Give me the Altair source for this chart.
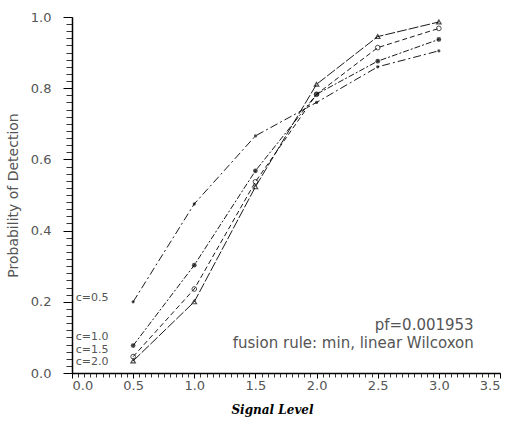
import altair as alt
import pandas as pd

signal = [0.5, 1.0, 1.5, 2.0, 2.5, 3.0]
c_labels = ["c=0.5", "c=1.0", "c=1.5", "c=2.0"]
pd_c05 = [0.200, 0.475, 0.666, 0.760, 0.860, 0.905]
pd_c10 = [0.077, 0.303, 0.568, 0.783, 0.876, 0.937]
pd_c15 = [0.046, 0.236, 0.537, 0.783, 0.914, 0.968]
pd_c20 = [0.034, 0.200, 0.523, 0.811, 0.945, 0.986]

label_x = [0.03, 0.03, 0.03, 0.03]
label_y = [0.21, 0.100, 0.066, 0.031]

note_text = ["pf=0.001953", "fusion rule: min, linear Wilcoxon"]
note_x = [2.88, 2.30]
note_y = [0.135, 0.084]

x_major = [0.0, 0.5, 1.0, 1.5, 2.0, 2.5, 3.0, 3.5]
y_major = [0.0, 0.2, 0.4, 0.6, 0.8, 1.0]
x_minor = [round(i * 0.05, 2) for i in range(71)]
y_minor = [round(i * 0.02, 2) for i in range(51)]

rows = []
for lab, vals in zip(c_labels, [pd_c05, pd_c10, pd_c15, pd_c20]):
    for s, v in zip(signal, vals):
        rows.append({"signal": s, "pd": v, "c": lab})
df = pd.DataFrame(rows)

lab_df = pd.DataFrame({"x": label_x, "y": label_y, "t": c_labels})
note_df = pd.DataFrame({"x": note_x, "y": note_y, "t": note_text})

FONT = "DejaVu Sans"
GRAY = "#555"

xaxis_major = alt.Axis(
    orient="bottom",
    values=x_major,
    format=".1f",
    tickSize=5,
    labelOverlap=False,
    grid=False,
    title="Signal Level",
    titleFont="DejaVu Serif",
    titleFontStyle="italic",
    titleFontWeight="bold",
    titleFontSize=12,
    titleColor="black",
    titlePadding=12,
    titleX=200,
    labelFont=FONT,
    labelFontSize=13,
    labelColor=GRAY,
    labelPadding=1,
    domainColor="black",
    domainWidth=1.5,
    tickColor="black",
)
yaxis_major = alt.Axis(
    orient="left",
    values=y_major,
    format=".1f",
    tickSize=9,
    labelOverlap=False,
    grid=False,
    title="Probability of Detection",
    titleFont=FONT,
    titleFontWeight="normal",
    titleFontSize=14,
    titleColor=GRAY,
    titlePadding=10,
    labelFont=FONT,
    labelFontSize=13,
    labelColor=GRAY,
    labelPadding=12,
    domainColor="black",
    domainWidth=1.5,
    tickColor="black",
)
xaxis_minor = alt.Axis(
    orient="bottom", values=x_minor, tickSize=4, labels=False, domain=False,
    grid=False, title=None, tickColor="black", tickWidth=0.8,
)
yaxis_minor = alt.Axis(
    orient="left", values=y_minor, tickSize=6, labels=False, domain=False,
    grid=False, title=None, tickColor="black", tickWidth=0.8,
)

xs = alt.Scale(domain=[0, 3.5], nice=False)
ys = alt.Scale(domain=[0, 1], nice=False)

dash_scale = alt.Scale(domain=c_labels, range=[[8, 3, 2, 3], [6, 2, 2, 2], [5, 3], [10, 2]])

lines = alt.Chart(df).mark_line(color="black", strokeWidth=0.9).encode(
    x=alt.X("signal:Q", scale=xs, axis=xaxis_major),
    y=alt.Y("pd:Q", scale=ys, axis=yaxis_major),
    strokeDash=alt.StrokeDash("c:N", scale=dash_scale, legend=None),
    detail="c:N",
)

minor = alt.Chart(df).mark_point(opacity=0).encode(
    x=alt.X("signal:Q", scale=xs, axis=xaxis_minor),
    y=alt.Y("pd:Q", scale=ys, axis=yaxis_minor),
)

def pts(label, **kw):
    return alt.Chart(df).transform_filter(alt.datum.c == label).mark_point(color="black", **kw).encode(
        x=alt.X("signal:Q", scale=xs, axis=None),
        y=alt.Y("pd:Q", scale=ys, axis=None),
    )

p05 = pts("c=0.5", shape="circle", filled=True, size=10)
p10 = pts("c=1.0", shape="circle", filled=True, size=22)
p15 = pts("c=1.5", shape="circle", filled=False, size=22, strokeWidth=1)
p20 = pts("c=2.0", shape="triangle-up", filled=False, size=20, strokeWidth=1.2)

labels = alt.Chart(lab_df).mark_text(align="left", baseline="middle", font=FONT, fontSize=11, color=GRAY).encode(
    x=alt.X("x:Q", scale=xs, axis=None), y=alt.Y("y:Q", scale=ys, axis=None), text="t:N"
)
notes = alt.Chart(note_df).mark_text(align="center", baseline="middle", font=FONT, fontSize=15, color=GRAY).encode(
    x=alt.X("x:Q", scale=xs, axis=None), y=alt.Y("y:Q", scale=ys, axis=None), text="t:N"
)

chart = alt.layer(lines, minor, p05, p10, p15, p20, labels, notes).resolve_axis(
    x="independent", y="independent"
).properties(
    width=428,
    height=356,
    autosize=alt.AutoSizeParams(type="none"),
    padding={"left": 72, "top": 17, "right": 10, "bottom": 54},
    background="white",
).configure_view(stroke=None)

chart.save("out.html", embed_options={"renderer": "svg", "actions": False})
